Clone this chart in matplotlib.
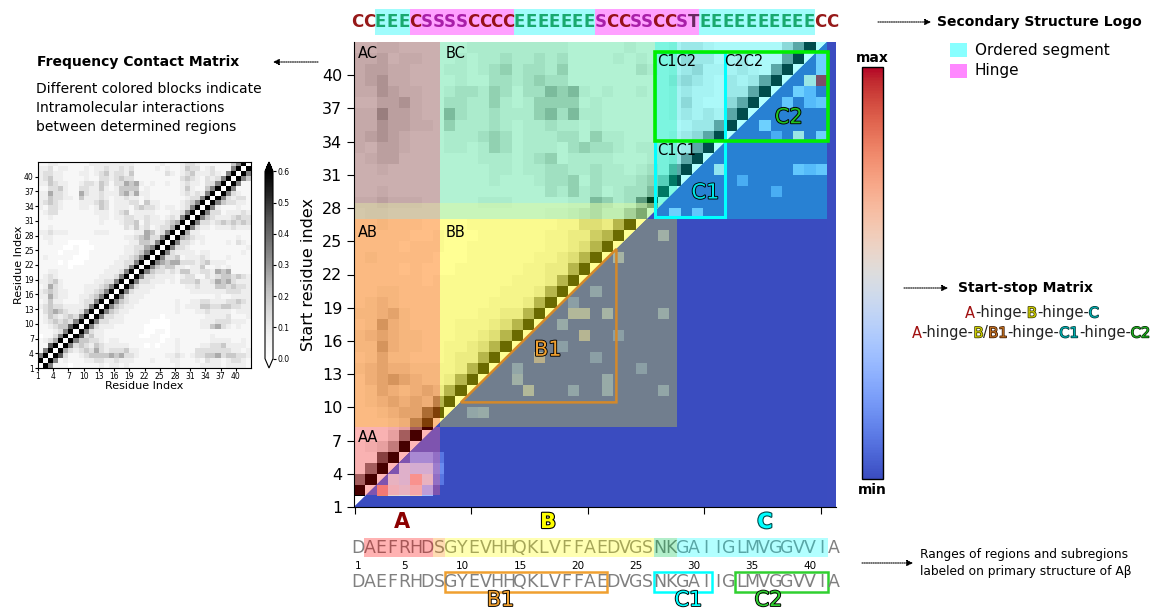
import matplotlib.pyplot as plt
import matplotlib.patheffects as pe
import numpy as np
from matplotlib.cm import ScalarMappable
from matplotlib.colors import Normalize
from matplotlib.offsetbox import AnnotationBbox, HPacker, TextArea
from matplotlib.patches import Polygon, Rectangle

W, H = 1163, 610

sequence = "DAEFRHDSGYEVHHQKLVFFAEDVGSNKGAIIGLMVGGVVIA"
sec_struct = "CC" + "EEE" + "CSSSSCCCC" + "EEEEEEE" + "SCCSSCCST" + "EEEEEEEEEE" + "CC"
ordered_segments = [(3, 5), (15, 21), (31, 40)]
hinge_segments = [(6, 14), (22, 30)]

# contact frequency, row r lists columns 1..r-1 as levels 0-9
contact_rows = [
    "9",
    "69",
    "169",
    "1179",
    "12359",
    "011369",
    "1112369",
    "11234479",
    "123434369",
    "1243234369",
    "13454322369",
    "234332222369",
    "1242211123369",
    "22532211223469",
    "234322111223469",
    "1253211112223469",
    "22342111111223369",
    "123211111111222369",
    "1122111111111222369",
    "11111101111111222369",
    "111101000111111223369",
    "1211111000111111223469",
    "11110111001111111223469",
    "111110010001111112233569",
    "1121110000111111112244369",
    "12211111111111111223453369",
    "223222111112221111122542369",
    "1121111111111111132423123359",
    "11111111111121112334132223459",
    "112111111111221223322322123269",
    "1233111111122212341222211122369",
    "21332111221243122213433212212369",
    "234321112223431222331422111123469",
    "2243322142223212232212111111123369",
    "22533211532232224535221111112323269",
    "113342113322421244441211111124211469",
    "2243221123324313354521211211232213369",
    "23422111121133234331111111113432132369",
    "233221112212342332411111132123422232169",
    "2231221112122322323111121211243312311169",
    "11221111112222222221111121112332111111469",
]
# contact frequency for each level
level_values = [0.0, 0.04, 0.08, 0.13, 0.19, 0.26, 0.34, 0.43, 0.52, 0.6]

# start-stop matrix (start, stop): value; all other pairs sit at the minimum
start_stop = {
    (2, 3): 0.8, (2, 4): 0.55, (2, 5): 0.5, (2, 6): 0.6, (2, 7): 0.3,
    (3, 4): 0.5, (3, 5): 0.45, (3, 6): 0.7, (3, 7): 0.5, (3, 8): 0.1,
    (4, 5): 0.45, (4, 6): 0.4, (4, 7): 0.4, (4, 8): 0.15,
    (5, 6): 0.2, (5, 7): 0.2, (5, 8): 0.1,
    (9, 11): 0.25, (9, 12): 0.3, (11, 16): 0.5, (11, 20): 0.25, (11, 23): 0.3,
    (11, 28): 0.25, (12, 15): 0.35, (12, 23): 0.3, (13, 15): 0.25, (13, 26): 0.2,
    (14, 17): 0.6, (14, 22): 0.2, (15, 19): 0.2, (16, 21): 0.55, (16, 24): 0.2,
    (17, 19): 0.3, (18, 20): 0.5, (18, 21): 0.5, (18, 23): 0.4, (18, 28): 0.3,
    (19, 20): 0.2, (20, 22): 0.25, (23, 24): 0.4, (25, 28): 0.35,
    (27, 29): 0.3, (27, 31): 0.25, (29, 38): 0.15, (30, 35): 0.15,
    (31, 33): 0.45, (31, 40): 0.25, (31, 41): 0.2, (31, 42): 0.25,
    (34, 38): 0.15, (34, 40): 0.5, (34, 42): 0.3, (35, 37): 0.3,
    (37, 39): 0.25, (37, 41): 0.2, (37, 42): 0.25, (38, 40): 0.3, (38, 41): 0.2,
    (39, 41): 0.5, (39, 42): 1.0, (40, 42): 0.3, (41, 42): 0.3,
}

# highlighted ranges on the primary structure
seq_highlights = [(2, 7, '#ff0000'), (8, 8, '#ff8c00'), (9, 26, '#ffff00'),
                  (27, 28, '#00c850'), (29, 41, '#00ffff')]
sub_regions = [('B1', 9, 22, '#f0a030'), ('C1', 27, 31, '#00ffff'), ('C2', 34, 41, '#30d030')]

n = len(sequence)
contact = np.zeros((n, n))
for r, row in enumerate(contact_rows, start=2):
    for c, d in enumerate(row, start=1):
        contact[r - 1, c - 1] = contact[c - 1, r - 1] = level_values[int(d)]
ss = np.zeros((n, n))
for (r, c), v in start_stop.items():
    ss[r - 1, c - 1] = v


def fig_box(x0, y0, x1, y1):
    return [x0 / W, 1 - y1 / H, (x1 - x0) / W, (y1 - y0) / H]


def outline(col='black', lw=1.3):
    return [pe.withStroke(linewidth=lw, foreground=col)]


fig = plt.figure(figsize=(W / 100, H / 100), dpi=100)

# ---- main start-stop / contact matrix
ax = fig.add_axes(fig_box(354, 42, 836, 507))
ax.set_facecolor(plt.cm.coolwarm(0.0))
ext = (1, n + 1, 1, n + 1)
upper = Polygon([(1, 1), (1, n + 1), (n + 1, n + 1)], transform=ax.transData)
lower = Polygon([(1, 1), (n + 2, 1), (n + 2, n + 2)], transform=ax.transData)
im_up = ax.imshow(contact, cmap='Greys', vmin=0, vmax=0.6, origin='lower', extent=ext,
                  aspect='auto', interpolation='nearest')
im_up.set_clip_path(upper)
im_lo = ax.imshow(ss, cmap='coolwarm', vmin=0, vmax=1, origin='lower', extent=ext,
                  aspect='auto', interpolation='nearest')
im_lo.set_clip_path(lower)

blocks = [
    (1.0, 8.6, 2.08, 8.25, '#ff0000', 0.28, upper),
    (1.0, 8.6, 2.08, 8.25, '#ff6490', 0.35, lower),
    (1.0, 8.6, 8.25, 27.05, '#ff7f0e', 0.5, upper),
    (1.0, 8.6, 27.05, 28.5, '#c6b48a', 0.7, upper),
    (1.0, 8.6, 28.5, 43.0, '#7a2a2a', 0.35, upper),
    (8.6, 29.7, 8.25, 27.05, '#ffff00', 0.42, upper),
    (8.6, 29.7, 8.25, 27.05, '#96a06e', 0.6, lower),
    (8.6, 29.7, 27.05, 28.5, '#b4f5a0', 0.7, upper),
    (8.6, 29.7, 28.5, 43.0, '#00e676', 0.28, upper),
    (27.7, 43.0, 27.05, 43.0, '#00ffff', 0.3, None),
]
for x0, x1, y0, y1, col, a, clip in blocks:
    p = ax.add_patch(Rectangle((x0, y0), x1 - x0, y1 - y0, color=col, alpha=a, lw=0))
    if clip is not None:
        p.set_clip_path(clip)

ax.add_patch(Rectangle((27.7, 27.2), 6.2, 14.9, fill=False, ec='#00ffff', lw=2.2))
ax.add_patch(Rectangle((27.7, 34.06), 15.35, 8.04, fill=False, ec='#00ee00', lw=2.6))
ax.add_patch(Polygon([(10.5, 10.45), (24.3, 10.45), (24.3, 24.3)], closed=True,
                     fill=False, ec='#d4892a', lw=1.8))

for label, x, y in [('AC', 1.36, 42.6), ('BC', 9.17, 42.6), ('AB', 1.36, 26.5),
                    ('BB', 9.17, 26.5), ('AA', 1.36, 8.0), ('C1C2', 27.9, 41.9),
                    ('C2C2', 33.86, 41.9), ('C1C1', 27.9, 33.9)]:
    ax.text(x, y, label, fontsize=10.5, va='top', ha='left')
ax.text(39.6, 36.2, 'C2', fontsize=15, color='#20c020', ha='center', va='center',
        path_effects=outline())
ax.text(32.2, 29.4, 'C1', fontsize=15, color='#00e5e5', ha='center', va='center',
        path_effects=outline())
ax.text(18.2, 15.2, 'B1', fontsize=15, color='#f0a030', ha='center', va='center',
        path_effects=outline())

ax.set_xlim(1, 43.8)
ax.set_ylim(1, 43)
ax.set_yticks(range(1, 41, 3))
ax.set_xticks([1.12, 11.37, 21.75, 32.06, 42.47])
ax.set_xticklabels([])
ax.tick_params(labelsize=11.5, length=5)
ax.set_ylabel('Start residue index', fontsize=11.5)
ax.spines['top'].set_visible(False)
ax.spines['right'].set_visible(False)

# ---- coolwarm scale bar
cax = fig.add_axes(fig_box(862, 67, 883, 479))
cb = fig.colorbar(ScalarMappable(norm=Normalize(0, 1), cmap='coolwarm'), cax=cax, ticks=[])
cb.outline.set_linewidth(1.0)

# ---- small frequency contact matrix
iax = fig.add_axes(fig_box(38, 162, 251, 368))
im_in = iax.imshow(contact, cmap='Greys', vmin=0, vmax=0.6, origin='lower', extent=ext,
                   aspect='auto', interpolation='nearest')
iax.set_xticks(range(1, 41, 3))
iax.set_yticks(range(1, 41, 3))
iax.tick_params(labelsize=5.5, length=2, pad=1)
iax.set_xlabel('Residue Index', fontsize=8, labelpad=0)
iax.set_ylabel('Residue Index', fontsize=8, labelpad=0)
icax = fig.add_axes(fig_box(265, 162, 273, 368))
icb = fig.colorbar(im_in, cax=icax, extend='both', ticks=np.arange(0, 0.61, 0.1))
icb.ax.set_yticklabels(['%.1f' % t for t in np.arange(0, 0.61, 0.1)])
icb.ax.tick_params(labelsize=5.5, length=2, pad=1)

# ---- secondary structure logo
lax = fig.add_axes(fig_box(351.7, 5, 838, 37))
lax.set_xlim(0.5, n + 0.5)
lax.set_ylim(37, 5)
lax.axis('off')
for s, e in ordered_segments:
    lax.add_patch(Rectangle((s - 0.5, 9), e - s + 1, 26, color='#a0fcfc', lw=0))
for s, e in hinge_segments:
    lax.add_patch(Rectangle((s - 0.5, 9), e - s + 1, 26, color='#ffa0ff', lw=0))
ss_colors = {'C': '#8b0000', 'E': '#0aa060', 'S': '#a010a0', 'T': '#5a1a50'}
for k, ch in enumerate(sec_struct, start=1):
    lax.text(k, 22, ch, ha='center', va='center', fontsize=12, fontweight='bold',
             color=ss_colors[ch], alpha=0.9)

# ---- primary structure rows
sax = fig.add_axes(fig_box(352, 510, 839.2, 610))
sax.set_xlim(0.5, n + 0.5)
sax.set_ylim(610, 510)
sax.axis('off')
for k, ch in enumerate(sequence, start=1):
    sax.text(k, 548, ch, ha='center', va='center', fontsize=12.5, color='#808080', zorder=2)
    sax.text(k, 582, ch, ha='center', va='center', fontsize=12.5, color='#808080', zorder=2)
for s, e, col in seq_highlights:
    sax.add_patch(Rectangle((s - 0.5, 538), e - s + 1, 19, color=col, alpha=0.3, lw=0, zorder=3))
for k in [1, 5, 10, 15, 20, 25, 30, 35, 40]:
    sax.text(k, 566, str(k), ha='center', va='center', fontsize=7.5)
for name, s, e, col in sub_regions:
    sax.add_patch(Rectangle((s - 0.5, 572), e - s + 1, 20, fill=False, ec=col, lw=1.8))
for name, x, col in [('B1', 13.3, '#f0a030'), ('C1', 29.5, '#00ffff'), ('C2', 36.4, '#30d030')]:
    sax.text(x, 600, name, ha='center', va='center', fontsize=15, color=col,
             path_effects=outline())
sax.text(4.8, 522, 'A', ha='center', va='center', fontsize=15, fontweight='bold', color='#8b0000')
sax.text(17.4, 522, 'B', ha='center', va='center', fontsize=15, fontweight='bold',
         color='#ffff00', path_effects=outline(lw=1.6))
sax.text(36.1, 522, 'C', ha='center', va='center', fontsize=15, fontweight='bold',
         color='#00ffff', path_effects=outline('#004848', 1.6))

# ---- annotations in pixel coordinates
ann = fig.add_axes([0, 0, 1, 1])
ann.set_xlim(0, W)
ann.set_ylim(H, 0)
ann.axis('off')


def dotted_arrow(x0, x1, y):
    ann.annotate('', xy=(x1, y), xytext=(x0, y),
                 arrowprops=dict(arrowstyle='-|>', ls=(0, (1, 1)), lw=0.8, color='black',
                                 mutation_scale=9, shrinkA=0, shrinkB=0))


ann.text(37, 62, 'Frequency Contact Matrix', fontsize=10, fontweight='bold', va='center')
dotted_arrow(318, 273, 62)
ann.text(36, 82, 'Different colored blocks indicate\nIntramolecular interactions\n'
         'between determined regions', fontsize=10, va='top', linespacing=1.45)

ann.text(937, 22, 'Secondary Structure Logo', fontsize=10, fontweight='bold', va='center')
dotted_arrow(878, 931, 22)
ann.add_patch(Rectangle((950, 43), 17, 14, color='#88ffff', lw=0))
ann.text(975, 50, 'Ordered segment', fontsize=11, va='center')
ann.add_patch(Rectangle((950, 64), 17, 14, color='#ff88ff', lw=0))
ann.text(975, 71, 'Hinge', fontsize=11, va='center')

ann.text(872, 58, 'max', fontsize=10, fontweight='bold', ha='center', va='center')
ann.text(872, 490, 'min', fontsize=10, fontweight='bold', ha='center', va='center')

ann.text(958, 288, 'Start-stop Matrix', fontsize=10, fontweight='bold', va='center')
dotted_arrow(904, 948, 288)


def colored_line(parts, xy, size=10.5):
    areas = [TextArea(s, textprops=dict(color=c, fontsize=size, path_effects=eff))
             for s, c, eff in parts]
    row = HPacker(children=areas, align='baseline', pad=0, sep=0)
    ann.add_artist(AnnotationBbox(row, xy, xycoords='data', frameon=False,
                                  box_alignment=(0.5, 0.5)))


plain = []
colored_line([('A', '#a01010', plain), ('-hinge-', '#222222', plain),
              ('B', '#d0d000', outline('#303000', 1.0)), ('-hinge-', '#222222', plain),
              ('C', '#00b0b0', outline('#003030', 1.0))], (1032, 313))
colored_line([('A', '#a01010', plain), ('-hinge-', '#222222', plain),
              ('B', '#d0d000', outline('#303000', 1.0)), ('/', '#222222', plain),
              ('B1', '#c07020', outline('#301000', 1.0)), ('-hinge-', '#222222', plain),
              ('C1', '#00b0b0', outline('#003030', 1.0)), ('-hinge-', '#222222', plain),
              ('C2', '#20b020', outline('#002000', 1.0))], (1031, 333))

ann.text(920, 563, 'Ranges of regions and subregions\nlabeled on primary structure of A\u03b2',
         fontsize=8.8, va='center', linespacing=1.45)
dotted_arrow(862, 913, 563)

fig.savefig('out.png', dpi=100)
